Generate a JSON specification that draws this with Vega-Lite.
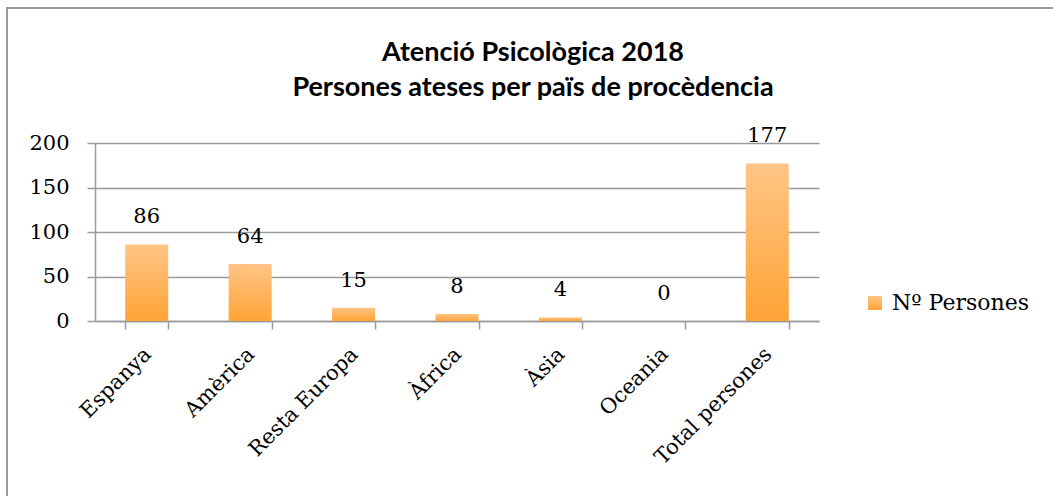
{
  "$schema": "https://vega.github.io/schema/vega-lite/v6.json",
  "width": 1060,
  "height": 500,
  "autosize": {"type": "none"},
  "padding": {"left": 7, "top": 8, "right": 0, "bottom": 0},
  "background": "white",
  "config": {
    "view": {"stroke": "#9a9a9a", "strokeWidth": 2},
    "axis": {
      "domainColor": "#9a9a9a",
      "domainWidth": 1.5,
      "tickColor": "#9a9a9a",
      "tickWidth": 1.5,
      "tickSize": 8,
      "gridColor": "#9a9a9a",
      "gridWidth": 1.5,
      "labelFont": "DejaVu Serif",
      "labelFontSize": 21,
      "labelColor": "#000000",
      "title": null
    }
  },
  "title": {
    "text": ["Atenció Psicològica 2018", "Persones ateses per païs de procèdencia"],
    "font": "Lato",
    "fontWeight": "bold",
    "fontSize": 27,
    "color": "#000000",
    "lineHeight": 35,
    "anchor": "middle",
    "frame": "group",
    "baseline": "alphabetic",
    "offset": -115,
    "dx": -4
  },
  "data": {
    "values": [
      {"regio": "Espanya", "persones": 86},
      {"regio": "Amèrica", "persones": 64},
      {"regio": "Resta Europa", "persones": 15},
      {"regio": "Àfrica", "persones": 8},
      {"regio": "Àsia", "persones": 4},
      {"regio": "Oceania", "persones": 0},
      {"regio": "Total persones", "persones": 177}
    ]
  },
  "encoding": {
    "x": {
      "field": "regio",
      "type": "nominal",
      "sort": null,
      "scale": {"range": [88, 812], "paddingInner": 0.584, "paddingOuter": 0.292},
      "axis": {
        "offset": -187,
        "labelAngle": -45,
        "tickBand": "extent",
        "labelPadding": 14,
        "labelOffset": -7,
        "grid": false
      }
    },
    "y": {
      "field": "persones",
      "type": "quantitative",
      "scale": {"domain": [0, 200], "range": [313, 135], "nice": false, "zero": true},
      "axis": {
        "offset": -88,
        "values": [0, 50, 100, 150, 200],
        "grid": true,
        "labelPadding": 18
      }
    }
  },
  "layer": [
    {
      "mark": {
        "type": "bar",
        "strokeWidth": 0,
        "fill": {
          "gradient": "linear",
          "x1": 0, "y1": 0, "x2": 0, "y2": 1,
          "stops": [
            {"offset": 0, "color": "#ffc586"},
            {"offset": 1, "color": "#ffa336"}
          ]
        }
      },
      "encoding": {
        "stroke": {
          "datum": "Nº Persones",
          "type": "nominal",
          "scale": {"range": ["#ffb45e"]},
          "legend": {
            "title": null,
            "orient": "none",
            "legendX": 857,
            "legendY": 284,
            "symbolType": "square",
            "symbolSize": 196,
            "symbolStrokeWidth": 0,
            "labelFont": "DejaVu Serif",
            "labelFontSize": 22,
            "labelColor": "#000000",
            "labelOffset": 6,
            "labelLimit": 300,
            "encode": {
              "symbols": {
                "update": {
                  "fill": {"value": {
                    "gradient": "linear",
                    "x1": 0, "y1": 0, "x2": 0, "y2": 1,
                    "stops": [
                      {"offset": 0, "color": "#ffc586"},
                      {"offset": 1, "color": "#ffa336"}
                    ]
                  }},
                  "strokeWidth": {"value": 0},
                  "opacity": {"value": 1}
                }
              }
            }
          }
        }
      }
    },
    {
      "mark": {
        "type": "text",
        "baseline": "middle",
        "dy": -27,
        "font": "DejaVu Serif",
        "fontSize": 21,
        "color": "#000000"
      },
      "encoding": {
        "text": {"field": "persones", "type": "quantitative"}
      }
    }
  ]
}
